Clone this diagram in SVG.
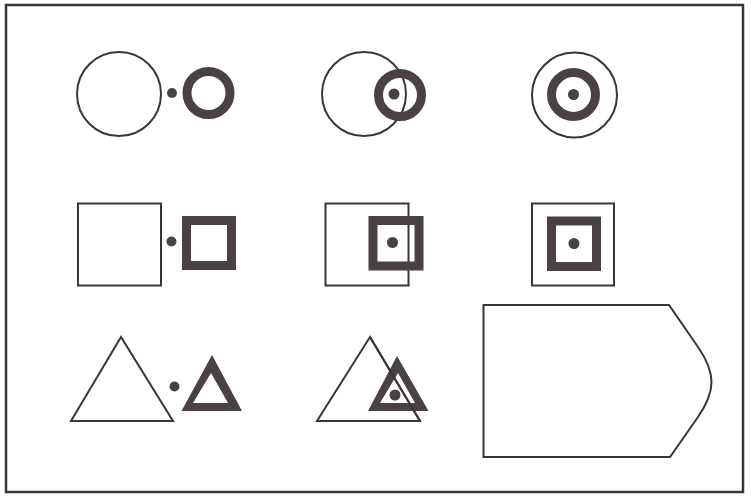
<svg xmlns="http://www.w3.org/2000/svg" width="751" height="499" viewBox="0 0 751 499">
<style>
.thin{fill:none;stroke:#3a3636;stroke-width:2}
.thick{fill:none;stroke:#4a4242;stroke-width:9}
.dot{fill:#4a4242}
.solid{fill:#4a4242;fill-rule:evenodd}
</style>
<rect width="751" height="499" fill="#ffffff"/>
<rect x="6" y="5" width="737" height="487" fill="none" stroke="#3a3636" stroke-width="2.5"/>
<g id="row1">
<circle class="thin" cx="119" cy="94" r="42"/>
<circle class="dot" cx="172" cy="93" r="5"/>
<circle class="thick" cx="208.5" cy="93" r="21.5"/>
<circle class="thin" cx="364" cy="94" r="42"/>
<circle class="thick" cx="400" cy="95" r="21.5"/>
<circle class="dot" cx="394" cy="94" r="5.5"/>
<circle class="thin" cx="574.5" cy="95" r="42.5"/>
<circle class="thick" cx="573.5" cy="94.5" r="22"/>
<circle class="dot" cx="573.5" cy="94.5" r="5.5"/>
</g>
<g id="row2">
<rect class="thin" x="78" y="203.5" width="83" height="82"/>
<circle class="dot" cx="171.5" cy="241.5" r="5"/>
<rect class="thick" x="186.5" y="220.5" width="45" height="45"/>
<rect class="thin" x="325.5" y="203.5" width="83" height="82"/>
<rect class="thick" x="373" y="220.5" width="46" height="45.5"/>
<circle class="dot" cx="392.5" cy="242.5" r="5.5"/>
<rect class="thin" x="532" y="203.5" width="82" height="82"/>
<rect class="thick" x="551.5" y="221" width="45" height="45.5"/>
<circle class="dot" cx="574" cy="243.5" r="5.5"/>
</g>
<g id="row3">
<polygon class="thin" points="121,337 71,421 173,421"/>
<circle class="dot" cx="174.5" cy="386.5" r="5"/>
<path class="solid" d="M212,355 L181.5,411 L242,411 Z M211,373 L193,403 L228,403 Z"/>
<polygon class="thin" points="370,337 317,421 420,421"/>
<path class="solid" d="M397,356 L368,411 L428.5,411 Z M398,373 L380,403 L415,403 Z"/>
<line class="thin" x1="370" y1="337" x2="420" y2="421"/>
<circle class="dot" cx="395" cy="395" r="5.5"/>
</g>
<g id="answer">
<path class="thin" d="M483.5,305 L669,305 L698,347 C716,373 716,391 698,417 L670,457 L483.5,457 Z"/>
</g>
</svg>
